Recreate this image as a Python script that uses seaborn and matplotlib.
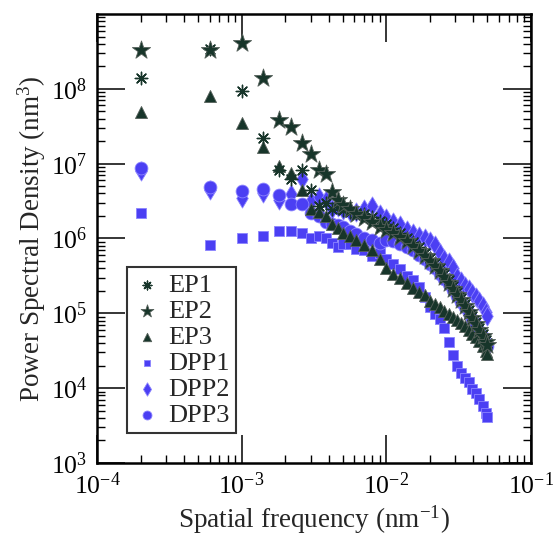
import matplotlib.pyplot as plt
import numpy as np
import seaborn as sns
from matplotlib.ticker import LogLocator, NullFormatter

# spatial frequency (nm^-1), shared by all samples
freq = [0.0002, 0.0006, 0.0010, 0.0014, 0.0018, 0.0022, 0.0026, 0.0030, 0.0034,
        0.0038, 0.0042, 0.0046, 0.0050, 0.0056, 0.0062, 0.0070, 0.0080, 0.0090,
        0.0100, 0.0112, 0.0124, 0.0138, 0.0152, 0.0168, 0.0184, 0.0200, 0.0216,
        0.0234, 0.0252, 0.0270, 0.0290, 0.0310, 0.0330, 0.0350, 0.0372, 0.0394,
        0.0416, 0.0440, 0.0464, 0.0488, 0.0500]

# log10 of power spectral density (nm^3)
ep1 = [8.14, 8.53, 7.97, 7.34, 6.92, 6.79, 6.91, 6.65, 6.43, 6.47, 6.40, 6.42,
       6.38, 6.36, 6.34, 6.33, 6.29, 6.24, 6.20, 6.14, 6.08, 6.01, 5.95, 5.88,
       5.81, 5.74, 5.67, 5.60, 5.52, 5.45, 5.37, 5.29, 5.21, 5.13, 5.05, 4.97,
       4.89, 4.81, 4.73, 4.65, 4.60]
ep2 = [8.52, 8.52, 8.61, 8.15, 7.58, 7.49, 7.28, 7.13, 6.92, 6.86, 6.62, 6.52,
       6.45, 6.40, 6.33, 6.28, 6.22, 6.16, 6.12, 6.07, 6.02, 5.96, 5.90, 5.83,
       5.76, 5.70, 5.63, 5.56, 5.48, 5.41, 5.33, 5.25, 5.18, 5.10, 5.02, 4.94,
       4.86, 4.78, 4.70, 4.62, 4.58]
ep3 = [7.69, 7.90, 7.54, 7.22, 6.97, 6.88, 6.65, 6.40, 6.35, 6.30, 6.20, 6.14,
       6.07, 6.03, 5.98, 5.91, 5.84, 5.73, 5.60, 5.53, 5.47, 5.41, 5.34, 5.29,
       5.25, 5.16, 5.12, 5.08, 5.03, 4.99, 4.95, 4.91, 4.87, 4.83, 4.78, 4.73,
       4.69, 4.63, 4.57, 4.50, 4.45]
dpp1 = [6.34, 5.91, 6.00, 6.03, 6.10, 6.10, 6.07, 6.00, 6.04, 6.00, 5.94, 5.88,
        5.92, 5.92, 5.86, 5.84, 5.76, 5.80, 5.72, 5.66, 5.59, 5.50, 5.44, 5.35,
        5.22, 5.08, 4.99, 4.93, 4.80, 4.62, 4.44, 4.30, 4.20, 4.14, 4.08, 3.99,
        3.93, 3.86, 3.76, 3.67, 3.62]
dpp2 = [6.90, 6.65, 6.54, 6.61, 6.52, 6.59, 6.79, 6.50, 6.56, 6.52, 6.40, 6.42,
        6.38, 6.36, 6.36, 6.40, 6.43, 6.33, 6.28, 6.22, 6.18, 6.11, 6.07, 6.03,
        6.01, 5.96, 5.91, 5.80, 5.72, 5.68, 5.60, 5.48, 5.43, 5.37, 5.32, 5.27,
        5.22, 5.16, 5.10, 5.02, 4.97]
dpp3 = [6.94, 6.69, 6.63, 6.66, 6.58, 6.46, 6.46, 6.34, 6.30, 6.22, 6.20, 6.18,
        6.16, 6.10, 6.06, 6.00, 5.98, 5.94, 5.98, 5.96, 5.93, 5.88, 5.84, 5.78,
        5.72, 5.66, 5.60, 5.53, 5.46, 5.39, 5.31, 5.23, 5.15, 5.08, 5.00, 4.92,
        4.84, 4.76, 4.68, 4.60, 4.56]

labels = ["EP1", "EP2", "EP3", "DPP1", "DPP2", "DPP3"]
x_ticks = [1e-4, 1e-3, 1e-2, 1e-1]
x_tick_labels = ["$10^{-4}$", "$10^{-3}$", "$10^{-2}$", "$10^{-1}$"]
y_ticks = [1e3, 1e4, 1e5, 1e6, 1e7, 1e8]
y_tick_labels = ["$10^{3}$", "$10^{4}$", "$10^{5}$", "$10^{6}$", "$10^{7}$", "$10^{8}$"]

sns.set_theme(style="ticks")
plt.rcParams["font.family"] = ["Liberation Serif", "DejaVu Serif"]
plt.rcParams["mathtext.fontset"] = "custom"
plt.rcParams["mathtext.rm"] = "Liberation Serif"
plt.rcParams["mathtext.it"] = "Liberation Serif:italic"

green = "#17352a"
blue = "#4b3ff3"
styles = {
    "EP1": dict(marker=(8, 2, 0), s=80, color=green, edgecolor=green, linewidth=1.0),
    "EP2": dict(marker="*", s=190, color=green, edgecolor="#55605a", linewidth=0.6),
    "EP3": dict(marker="^", s=75, color=green, edgecolor="#55605a", linewidth=0.6),
    "DPP1": dict(marker="s", s=45, color=blue, edgecolor="#8c84ff", linewidth=0.6),
    "DPP2": dict(marker="d", s=95, color=blue, edgecolor="#8c84ff", linewidth=0.6),
    "DPP3": dict(marker="o", s=85, color=blue, edgecolor="#8c84ff", linewidth=0.6),
}
series = {"EP1": ep1, "EP2": ep2, "EP3": ep3, "DPP1": dpp1, "DPP2": dpp2, "DPP3": dpp3}

fig = plt.figure(figsize=(5.53, 5.41), dpi=100)
ax = fig.add_axes([0.1754, 0.1442, 0.7848, 0.8299])

# blue samples underneath, dark samples on top
for name in ["DPP1", "DPP2", "DPP3", "EP3", "EP1", "EP2"]:
    sns.scatterplot(x=freq, y=np.power(10.0, series[name]), ax=ax, label=name,
                    **styles[name])

ax.set_xscale("log")
ax.set_yscale("log")
ax.set_xlim(1e-4, 1e-1)
ax.set_ylim(1e3, 1e9)
ax.set_xticks(x_ticks)
ax.set_xticklabels(x_tick_labels)
ax.set_yticks(y_ticks)
ax.set_yticklabels(y_tick_labels)
for axis in (ax.xaxis, ax.yaxis):
    axis.set_minor_locator(LogLocator(base=10, subs=np.arange(2, 10), numticks=20))
    axis.set_minor_formatter(NullFormatter())
ax.tick_params(which="both", direction="in", top=True, right=True, colors="black",
               labelsize=18.5)
ax.tick_params(which="major", length=20, width=1.1, pad=7)
ax.tick_params(which="minor", length=6, width=1.0)
for sp in ax.spines.values():
    sp.set_linewidth(1.8)
    sp.set_color("black")

ax.set_xlabel("Spatial frequency (nm$^{-1}$)", fontsize=19.5, labelpad=3)
ax.set_ylabel("Power Spectral Density (nm$^{3}$)", fontsize=19.5, labelpad=2)

handles, names = ax.get_legend_handles_labels()
order = [names.index(n) for n in labels]
leg = ax.legend([handles[i] for i in order], labels, loc="lower left",
                bbox_to_anchor=(0.069, 0.067), fontsize=19, frameon=True,
                fancybox=False, edgecolor="#333333", framealpha=1,
                handletextpad=0.25, labelspacing=0.1, borderpad=0.22,
                handlelength=1.1, markerscale=0.7, borderaxespad=0)
leg.get_frame().set_linewidth(1.5)

fig.savefig("out.png", dpi=100)
